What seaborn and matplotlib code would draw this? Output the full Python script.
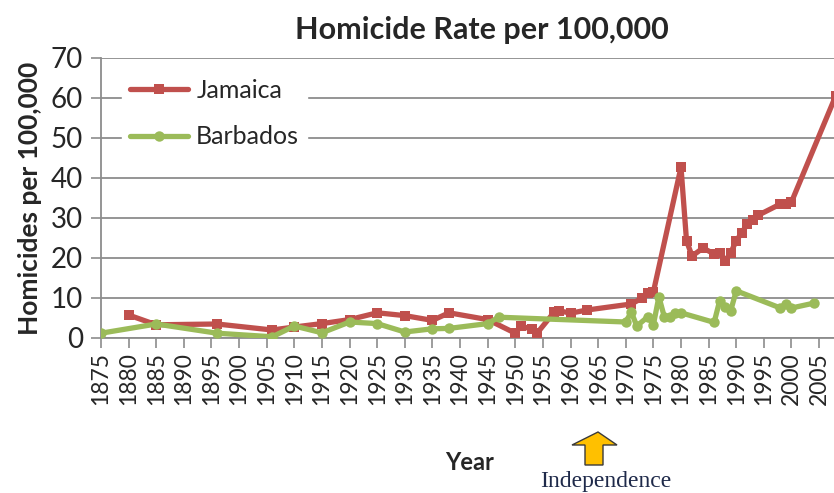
import matplotlib
matplotlib.use("Agg")
import matplotlib.pyplot as plt
import seaborn as sns
import pandas as pd
from matplotlib.patches import Polygon

# ---- data ----
jamaica_years = [1880, 1885, 1896, 1906, 1910, 1915, 1920, 1925, 1930, 1935, 1938,
                 1945, 1950, 1951, 1953, 1954, 1957, 1958, 1960, 1963, 1971, 1973,
                 1974, 1975, 1980, 1981, 1982, 1984, 1986, 1987, 1988, 1989, 1990,
                 1991, 1992, 1993, 1994, 1998, 1999, 2000, 2008]
jamaica_rates = [5.75, 3.3, 3.5, 2.0, 2.75, 3.6, 4.6, 6.3, 5.6, 4.4, 6.3,
                 4.6, 1.2, 3.0, 2.2, 1.3, 6.4, 6.8, 6.2, 7.0, 8.5, 10.0,
                 11.3, 11.5, 42.7, 24.3, 20.5, 22.5, 21.0, 21.3, 19.3, 21.3, 24.3,
                 26.3, 28.5, 29.5, 30.7, 33.5, 33.5, 34.0, 60.5]

barbados_years = [1875, 1885, 1896, 1906, 1910, 1915, 1920, 1925, 1930, 1935, 1938,
                  1945, 1947, 1970, 1971, 1972, 1974, 1975, 1976, 1977, 1978, 1979,
                  1980, 1986, 1987, 1988, 1989, 1990, 1998, 1999, 2000, 2004]
barbados_rates = [1.2, 3.5, 1.2, 0.3, 3.0, 1.3, 4.0, 3.6, 1.5, 2.3, 2.4,
                  3.6, 5.2, 4.0, 6.5, 3.0, 5.3, 3.3, 10.3, 5.2, 5.2, 6.3,
                  6.3, 3.9, 9.3, 7.8, 6.8, 11.8, 7.5, 8.6, 7.5, 8.7]

countries = ["Jamaica", "Barbados"]
colors = {"Jamaica": "#C0504D", "Barbados": "#9BBB59"}
markers = {"Jamaica": "s", "Barbados": "o"}
x_ticks = list(range(1875, 2006, 5))
y_ticks = list(range(0, 71, 10))

df = pd.concat([
    pd.DataFrame({"Year": jamaica_years, "Rate": jamaica_rates, "Country": "Jamaica"}),
    pd.DataFrame({"Year": barbados_years, "Rate": barbados_rates, "Country": "Barbados"}),
], ignore_index=True)

sns.set_style("white")
plt.rcParams["font.family"] = ["Lato", "DejaVu Sans"]

W, H = 834, 493
fig = plt.figure(figsize=(W / 100, H / 100), dpi=100)
ax = fig.add_axes([101 / W, 1 - 338 / H, (W - 101) / W, (338 - 58) / H])

sns.lineplot(data=df, x="Year", y="Rate", hue="Country", style="Country",
             hue_order=countries, style_order=countries,
             palette=colors, markers=markers, dashes=False,
             linewidth=3.8, markersize=7.5, markeredgewidth=0,
             sort=False, ax=ax, zorder=3)

ax.set_xlim(1875, 2007.7)
ax.set_ylim(0, 70)
ax.set_xticks(x_ticks)
ax.set_yticks(y_ticks)
ax.set_xticklabels([str(t) for t in x_ticks], rotation=90, fontsize=16.5)
ax.tick_params(axis="x", length=7, width=1.2, color="#8c8c8c", pad=3, direction="out", bottom=True)
ax.tick_params(axis="y", length=7, width=1.2, color="#8c8c8c", pad=6, labelsize=20, left=True)
ax.grid(axis="y", color="#8c8c8c", linewidth=1.3, zorder=0)
ax.set_axisbelow(True)
for s in ["top", "right"]:
    ax.spines[s].set_visible(False)
for s in ["left", "bottom"]:
    ax.spines[s].set_color("#8c8c8c")
    ax.spines[s].set_linewidth(1.3)

ax.set_xlabel("")
ax.set_ylabel("Homicides per 100,000", fontsize=19, fontweight="bold", labelpad=6)

handles, labels = ax.get_legend_handles_labels()
leg = ax.legend(handles, labels, loc="upper left",
                bbox_to_anchor=(122 / W, 1 - 71 / H), bbox_transform=fig.transFigure,
                frameon=True, fontsize=18, handlelength=2.35, handletextpad=0.32,
                labelspacing=0.95, borderpad=0.3, borderaxespad=0, fancybox=False)
leg.get_frame().set_facecolor("white")
leg.get_frame().set_edgecolor("white")
leg.get_frame().set_alpha(1)
for lh in leg.get_lines():
    lh.set_linewidth(3.8)

fig.text(482 / W, 1 - 30 / H, "Homicide Rate per 100,000", ha="center", va="center",
         fontsize=22, fontweight="bold")
fig.text(470 / W, 1 - 463 / H, "Year", ha="center", va="center",
         fontsize=17, fontweight="bold")
fig.text(606 / W, 1 - 481 / H, "Independence", ha="center", va="center",
         fontsize=17, family=["Liberation Serif"], color="#1f2a4a")

arrow_px = [(598, 432), (572, 445), (585, 445), (585, 465), (603, 465), (603, 445), (617, 445)]
arrow = Polygon([(x / W, 1 - y / H) for x, y in arrow_px], closed=True,
                facecolor="#FFC000", edgecolor="#3a3a3a", linewidth=1.0,
                transform=fig.transFigure)
fig.add_artist(arrow)

fig.savefig("out.png", dpi=100)
